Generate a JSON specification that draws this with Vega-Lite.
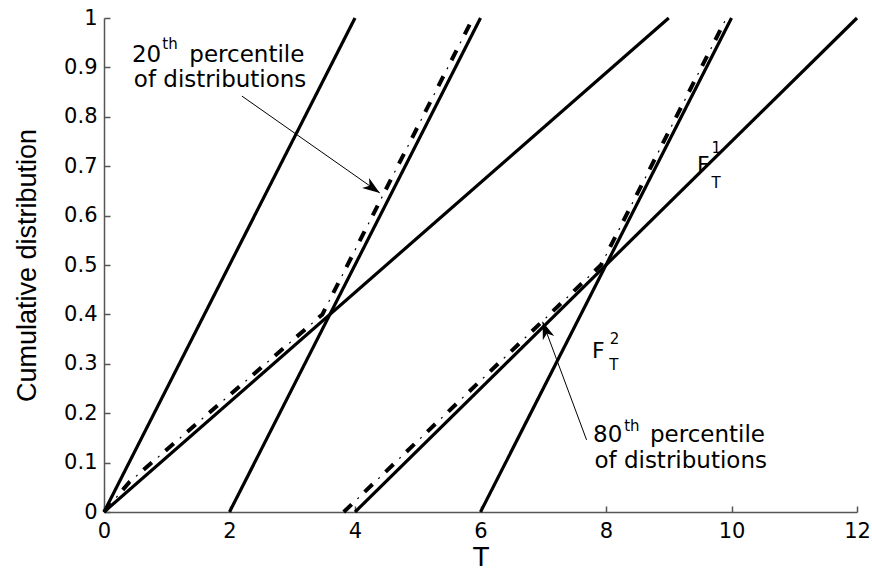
{
  "$schema": "https://vega.github.io/schema/vega-lite/v6.json",
  "width": 753,
  "height": 494,
  "autosize": "none",
  "padding": {"left": 104, "top": 18, "right": 15, "bottom": 56},
  "background": "white",
  "config": {"view": {"stroke": null}},
  "datasets": {
    "solid": [
      {"s": "A", "o": 0, "x": 0, "y": 0}, {"s": "A", "o": 1, "x": 4, "y": 1},
      {"s": "B", "o": 0, "x": 2, "y": 0}, {"s": "B", "o": 1, "x": 6, "y": 1},
      {"s": "C", "o": 0, "x": 0, "y": 0}, {"s": "C", "o": 1, "x": 9, "y": 1},
      {"s": "D", "o": 0, "x": 4, "y": 0}, {"s": "D", "o": 1, "x": 12, "y": 1},
      {"s": "E", "o": 0, "x": 6, "y": 0}, {"s": "E", "o": 1, "x": 10, "y": 1}
    ],
    "pct": [
      {"s": "P20", "o": 0, "x": 0, "y": 0},
      {"s": "P20", "o": 1, "x": 0.4, "y": 0.06},
      {"s": "P20", "o": 2, "x": 3.48, "y": 0.4},
      {"s": "P20", "o": 3, "x": 5.88, "y": 1},
      {"s": "P80", "o": 0, "x": 3.82, "y": 0},
      {"s": "P80", "o": 1, "x": 7.92, "y": 0.5},
      {"s": "P80", "o": 2, "x": 9.92, "y": 1}
    ],
    "notes": [
      {"t": "20", "x": 0.446, "y": 0.911, "a": "left"},
      {"t": "percentile", "x": 1.36, "y": 0.911, "a": "left"},
      {"t": "of distributions", "x": 1.85, "y": 0.86, "a": "center"},
      {"t": "80", "x": 7.793, "y": 0.1417, "a": "left"},
      {"t": "percentile", "x": 8.70, "y": 0.1417, "a": "left"},
      {"t": "of distributions", "x": 9.19, "y": 0.089, "a": "center"}
    ],
    "sups": [
      {"t": "th", "x": 0.93, "y": 0.937},
      {"t": "th", "x": 8.29, "y": 0.164},
      {"t": "1", "x": 9.68, "y": 0.727},
      {"t": "T", "x": 9.68, "y": 0.655},
      {"t": "2", "x": 8.06, "y": 0.340},
      {"t": "T", "x": 8.05, "y": 0.287}
    ],
    "fs": [
      {"t": "F", "x": 9.45, "y": 0.688},
      {"t": "F", "x": 7.777, "y": 0.312}
    ],
    "arrows": [
      {"x": 2.197, "y": 0.842, "x2": 4.395, "y2": 0.646},
      {"x": 7.69, "y": 0.146, "x2": 6.99, "y2": 0.385}
    ]
  },
  "layer": [
    {
      "data": {"name": "solid"},
      "mark": {"type": "line", "color": "black", "strokeWidth": 3.2},
      "encoding": {
        "x": {
          "field": "x", "type": "quantitative",
          "scale": {"domain": [0, 12], "nice": false, "zero": false},
          "axis": {
            "values": [0, 2, 4, 6, 8, 10, 12],
            "format": "d",
            "title": "T",
            "grid": false,
            "domainColor": "#555",
            "domainWidth": 1.5,
            "tickColor": "#555",
            "tickWidth": 1.5,
            "tickSize": -6,
            "labelPadding": 14,
            "labelFont": "DejaVu Sans",
            "labelFontSize": 21,
            "labelColor": "black",
            "labelFlush": false,
            "titleFont": "Liberation Sans",
            "titleFontSize": 28,
            "titleFontWeight": "normal",
            "titleColor": "black",
            "titlePadding": 2
          }
        },
        "y": {
          "field": "y", "type": "quantitative",
          "scale": {"domain": [0, 1], "nice": false, "zero": false},
          "axis": {
            "values": [0, 0.1, 0.2, 0.3, 0.4, 0.5, 0.6, 0.7, 0.8, 0.9, 1],
            "format": "~g",
            "title": "Cumulative distribution",
            "grid": false,
            "domainColor": "#555",
            "domainWidth": 1.5,
            "tickColor": "#555",
            "tickWidth": 1.5,
            "tickSize": -6,
            "labelPadding": 13,
            "labelFont": "DejaVu Sans",
            "labelFontSize": 21,
            "labelColor": "black",
            "labelFlush": false,
            "titleFont": "Liberation Sans",
            "titleFontSize": 27,
            "titleFontWeight": "normal",
            "titleColor": "black",
            "titlePadding": 22
          }
        },
        "detail": {"field": "s"},
        "order": {"field": "o"}
      }
    },
    {
      "data": {"name": "pct"},
      "mark": {"type": "line", "color": "black", "strokeWidth": 4, "strokeDash": [11, 18]},
      "encoding": {
        "x": {"field": "x", "type": "quantitative"},
        "y": {"field": "y", "type": "quantitative"},
        "detail": {"field": "s"},
        "order": {"field": "o"}
      }
    },
    {
      "data": {"name": "pct"},
      "mark": {"type": "line", "color": "black", "strokeWidth": 1.2, "strokeDash": [2, 27], "strokeDashOffset": 10},
      "encoding": {
        "x": {"field": "x", "type": "quantitative"},
        "y": {"field": "y", "type": "quantitative"},
        "detail": {"field": "s"},
        "order": {"field": "o"}
      }
    },
    {
      "data": {"name": "arrows"},
      "mark": {"type": "rule", "color": "black", "strokeWidth": 1},
      "encoding": {
        "x": {"field": "x", "type": "quantitative"},
        "y": {"field": "y", "type": "quantitative"},
        "x2": {"field": "x2"},
        "y2": {"field": "y2"}
      }
    },
    {
      "data": {"values": [{"x": 4.395, "y": 0.646}]},
      "mark": {"type": "point", "shape": "M0,0L-2,-0.7L-1.45,0L-2,0.7Z", "filled": true, "color": "black", "opacity": 1, "size": 300, "angle": 35},
      "encoding": {
        "x": {"field": "x", "type": "quantitative"},
        "y": {"field": "y", "type": "quantitative"}
      }
    },
    {
      "data": {"values": [{"x": 6.99, "y": 0.385}]},
      "mark": {"type": "point", "shape": "M0,0L-2,-0.7L-1.45,0L-2,0.7Z", "filled": true, "color": "black", "opacity": 1, "size": 300, "angle": 250},
      "encoding": {
        "x": {"field": "x", "type": "quantitative"},
        "y": {"field": "y", "type": "quantitative"}
      }
    },
    {
      "data": {"name": "notes"},
      "transform": [{"filter": "datum.a == 'left'"}],
      "mark": {"type": "text", "align": "left", "baseline": "alphabetic", "font": "DejaVu Sans", "fontSize": 23, "color": "black"},
      "encoding": {
        "x": {"field": "x", "type": "quantitative"},
        "y": {"field": "y", "type": "quantitative"},
        "text": {"field": "t"}
      }
    },
    {
      "data": {"name": "notes"},
      "transform": [{"filter": "datum.a == 'center'"}],
      "mark": {"type": "text", "align": "center", "baseline": "alphabetic", "font": "DejaVu Sans", "fontSize": 23, "color": "black"},
      "encoding": {
        "x": {"field": "x", "type": "quantitative"},
        "y": {"field": "y", "type": "quantitative"},
        "text": {"field": "t"}
      }
    },
    {
      "data": {"name": "sups"},
      "mark": {"type": "text", "align": "left", "baseline": "alphabetic", "font": "DejaVu Sans", "fontSize": 15, "color": "black"},
      "encoding": {
        "x": {"field": "x", "type": "quantitative"},
        "y": {"field": "y", "type": "quantitative"},
        "text": {"field": "t"}
      }
    },
    {
      "data": {"name": "fs"},
      "mark": {"type": "text", "align": "left", "baseline": "alphabetic", "font": "DejaVu Sans", "fontSize": 22, "color": "black"},
      "encoding": {
        "x": {"field": "x", "type": "quantitative"},
        "y": {"field": "y", "type": "quantitative"},
        "text": {"field": "t"}
      }
    }
  ]
}
